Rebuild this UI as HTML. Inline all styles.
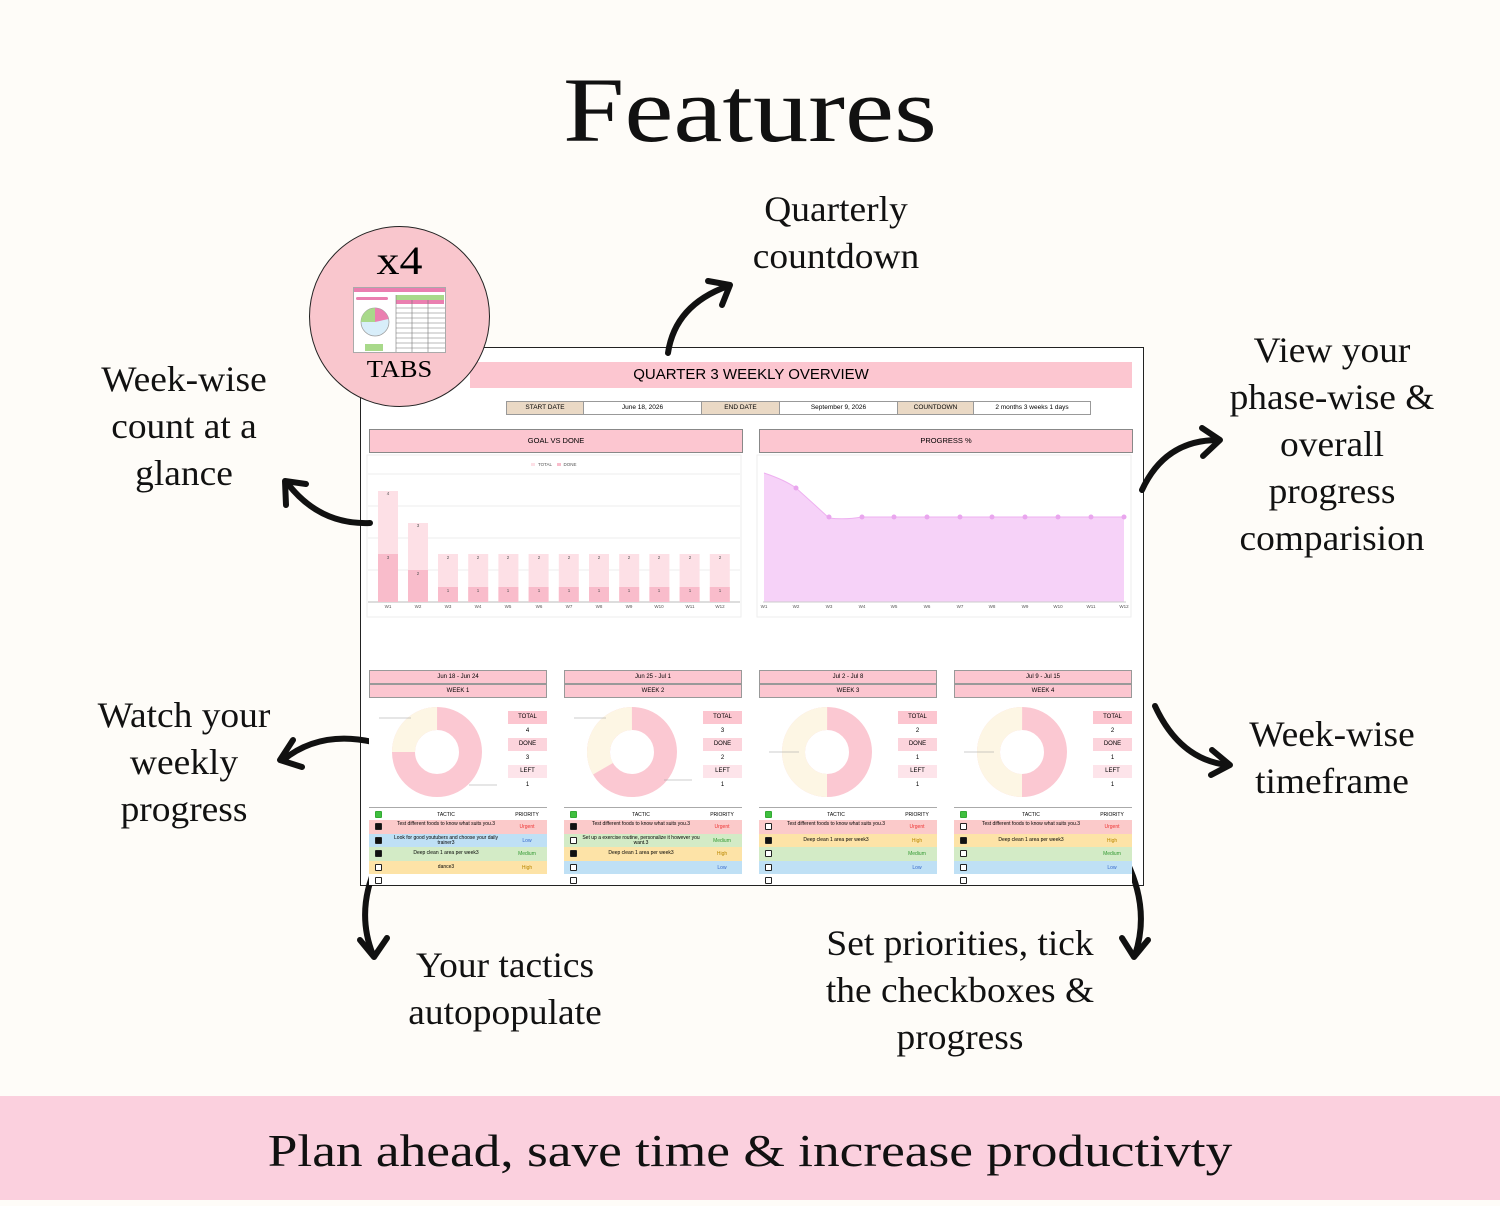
<!DOCTYPE html>
<html><head><meta charset="utf-8"><style>
*{margin:0;padding:0;box-sizing:border-box}
body{width:1500px;height:1200px;background:#fefcf8;position:relative;overflow:hidden;font-family:"Liberation Serif",serif}
.a{position:absolute}
.lbl{position:absolute;text-align:center;font-size:36px;line-height:47px;color:#111;transform:translateX(-50%) scaleX(1.04);white-space:nowrap}
.ss{font-family:"Liberation Sans",sans-serif}
.card{position:absolute;top:670px;width:178px;height:215px;background:#fff}
.card .r{position:absolute;left:0;width:178px;height:14px;background:#fcc6d0;border:1px solid #999;font:6px "Liberation Sans",sans-serif;text-align:center;line-height:12px}
.st{position:absolute;left:139px;width:39px;height:13px;font:6px "Liberation Sans",sans-serif;text-align:center;line-height:13px}
.tr{position:absolute;left:0;width:178px;height:13.5px;font:5px "Liberation Sans",sans-serif}
.tr .cb{position:absolute;left:6px;top:3px;width:7px;height:7px;border:1px solid #222;border-radius:1px;background:#fff}
.tr .cb.k{background:#111}
.tr .t{position:absolute;left:18px;width:118px;text-align:center;top:2px;line-height:5px}
.tr .p{position:absolute;left:140px;width:36px;text-align:center;top:4px}
</style></head><body>
<div class="a" style="left:0;top:60px;width:1500px;text-align:center;font-size:92px;line-height:100px;color:#111;transform:scaleX(1.2)">Features</div>

<div class="lbl" style="left:836px;top:186px">Quarterly<br>countdown</div>
<div class="lbl" style="left:184px;top:356px">Week-wise<br>count at a<br>glance</div>
<div class="lbl" style="left:1332px;top:327px">View your<br>phase-wise &amp;<br>overall<br>progress<br>comparision</div>
<div class="lbl" style="left:184px;top:692px">Watch your<br>weekly<br>progress</div>
<div class="lbl" style="left:1332px;top:711px">Week-wise<br>timeframe</div>
<div class="lbl" style="left:505px;top:942px">Your tactics<br>autopopulate</div>
<div class="lbl" style="left:960px;top:920px">Set priorities, tick<br>the checkboxes &amp;<br>progress</div>

<!-- screenshot frame -->
<div class="a" style="left:360px;top:347px;width:784px;height:539px;background:#fff;border:1.5px solid #222"></div>
<div class="a ss" style="left:470px;top:362px;width:662px;height:26px;background:#fcc6d0;text-align:center;font-size:15px;line-height:26px;padding-right:100px">QUARTER 3 WEEKLY OVERVIEW</div>
<div class="a ss" style="left:506px;top:401px;width:585px;height:14px;font-size:6.5px;line-height:12px;text-align:center;display:flex;border:1px solid #999">
<div style="width:76px;background:#ead9c5">START DATE</div><div style="width:118px;border-left:1px solid #999">June 18, 2026</div><div style="width:78px;background:#ead9c5;border-left:1px solid #999">END DATE</div><div style="width:118px;border-left:1px solid #999">September 9, 2026</div><div style="width:76px;background:#ead9c5;border-left:1px solid #999">COUNTDOWN</div><div style="flex:1;border-left:1px solid #999">2 months 3 weeks 1 days</div></div>
<div class="a ss" style="left:369px;top:429px;width:374px;height:24px;background:#fcc6d0;border:1px solid #888;text-align:center;font-size:7.5px;line-height:22px">GOAL VS DONE</div>
<div class="a ss" style="left:759px;top:429px;width:374px;height:24px;background:#fcc6d0;border:1px solid #888;text-align:center;font-size:7.5px;line-height:22px">PROGRESS %</div>

<svg class="a" style="left:0;top:0" width="1500" height="1200">
<g font-family="Liberation Sans,sans-serif" font-size="4.5" fill="#555" text-anchor="middle">
<rect x="367" y="455" width="374" height="162" fill="none" stroke="#eee"/>
<rect x="757" y="455" width="374" height="162" fill="none" stroke="#eee"/>
<rect x="531" y="463" width="4" height="3" fill="#fde0e6"/><text x="545" y="466">TOTAL</text>
<rect x="557" y="463" width="4" height="3" fill="#f9bccb"/><text x="570" y="466">DONE</text>
<line x1="368" y1="602" x2="740" y2="602" stroke="#bbb"/>
<line x1="368" y1="570" x2="740" y2="570" stroke="#eee"/><line x1="368" y1="538" x2="740" y2="538" stroke="#eee"/><line x1="368" y1="506" x2="740" y2="506" stroke="#eee"/><line x1="368" y1="474" x2="740" y2="474" stroke="#eee"/>
<rect x="378" y="491" width="20" height="111" fill="#fde0e6"/><rect x="378" y="554" width="20" height="48" fill="#f9bccb"/>
<rect x="408" y="523" width="20" height="79" fill="#fde0e6"/><rect x="408" y="570" width="20" height="32" fill="#f9bccb"/>
<g id="b"><rect x="438" y="554" width="20" height="48" fill="#fde0e6"/><rect x="438" y="587" width="20" height="15" fill="#f9bccb"/></g>
<use href="#b" x="30.2"/><use href="#b" x="60.4"/><use href="#b" x="90.6"/><use href="#b" x="120.8"/><use href="#b" x="151"/><use href="#b" x="181.2"/><use href="#b" x="211.4"/><use href="#b" x="241.6"/><use href="#b" x="271.8"/>
<text x="388" y="495">4</text><text x="388" y="559">3</text><text x="418" y="527">3</text><text x="418" y="575">2</text>
<text x="448" y="559">2</text><text x="478" y="559">2</text><text x="508" y="559">2</text><text x="539" y="559">2</text><text x="569" y="559">2</text><text x="599" y="559">2</text><text x="629" y="559">2</text><text x="659" y="559">2</text><text x="690" y="559">2</text><text x="720" y="559">2</text>
<text x="448" y="592">1</text><text x="478" y="592">1</text><text x="508" y="592">1</text><text x="539" y="592">1</text><text x="569" y="592">1</text><text x="599" y="592">1</text><text x="629" y="592">1</text><text x="659" y="592">1</text><text x="690" y="592">1</text><text x="720" y="592">1</text>
<text x="388" y="608">W1</text><text x="418" y="608">W2</text><text x="448" y="608">W3</text><text x="478" y="608">W4</text><text x="508" y="608">W5</text><text x="539" y="608">W6</text><text x="569" y="608">W7</text><text x="599" y="608">W8</text><text x="629" y="608">W9</text><text x="659" y="608">W10</text><text x="690" y="608">W11</text><text x="720" y="608">W12</text>
<path d="M764 473 Q785 480 796 488 Q815 505 829 518 Q845 520 862 517 L1124 517 L1124 602 L764 602 Z" fill="#f6d2f8"/>
<path d="M764 473 Q785 480 796 488 Q815 505 829 518 Q845 520 862 517 L1124 517" fill="none" stroke="#eeb0f0" stroke-width="1"/>
<g fill="#e9a6ee"><circle cx="796" cy="488" r="2.5"/><circle cx="829" cy="517" r="2.5"/><circle cx="862" cy="517" r="2.5"/><circle cx="894" cy="517" r="2.5"/><circle cx="927" cy="517" r="2.5"/><circle cx="960" cy="517" r="2.5"/><circle cx="992" cy="517" r="2.5"/><circle cx="1025" cy="517" r="2.5"/><circle cx="1058" cy="517" r="2.5"/><circle cx="1091" cy="517" r="2.5"/><circle cx="1124" cy="517" r="2.5"/></g>
<line x1="763" y1="602" x2="1126" y2="602" stroke="#ccc"/>
<text x="764" y="608">W1</text><text x="796" y="608">W2</text><text x="829" y="608">W3</text><text x="862" y="608">W4</text><text x="894" y="608">W5</text><text x="927" y="608">W6</text><text x="960" y="608">W7</text><text x="992" y="608">W8</text><text x="1025" y="608">W9</text><text x="1058" y="608">W10</text><text x="1091" y="608">W11</text><text x="1124" y="608">W12</text>
</g>
<g fill="none" stroke="#111" stroke-width="6" stroke-linecap="round" stroke-linejoin="round">
<path d="M668 353 Q675 305 728 286"/><path d="M708 281 L730 285 L722 305"/>
<path d="M370 523 Q320 525 288 484"/><path d="M286 505 L285 481 L306 484"/>
<path d="M1142 490 Q1165 440 1218 440"/><path d="M1202 428 L1220 440 L1203 456"/>
<path d="M373 742 Q320 730 283 760"/><path d="M293 740 L280 760 L302 767"/>
<path d="M1155 706 Q1180 760 1228 765"/><path d="M1212 750 L1230 765 L1211 775"/>
<path d="M378 862 Q355 910 373 955"/><path d="M360 940 L374 957 L387 938"/>
<path d="M1127 862 Q1150 910 1135 955"/><path d="M1122 938 L1134 957 L1148 940"/>
</g>
</svg>

<div class="a" style="left:309px;top:226px;width:181px;height:181px;border-radius:50%;background:#f9c6cd;border:1.5px solid #222"></div>
<div class="a" style="left:309px;top:238px;width:181px;text-align:center;font-size:40px;line-height:46px;transform:scaleX(1.15)">x4</div>
<div class="a" style="left:309px;top:355px;width:181px;text-align:center;font-size:24px;line-height:30px;transform:scaleX(1.1)">TABS</div>
<svg class="a" style="left:353px;top:287px" width="93" height="66">
<rect x="0.5" y="0.5" width="92" height="65" fill="#fff" stroke="#aaa"/>
<rect x="1" y="1" width="91" height="4" fill="#ea7fb0"/>
<rect x="3" y="10" width="32" height="3" rx="1.5" fill="#ea7fb0"/>
<circle cx="22" cy="35" r="14" fill="#d8eefa" stroke="#999" stroke-width=".7"/>
<path d="M22 35 L22 21 A14 14 0 0 1 35.5 32 Z" fill="#ea7fb0"/>
<path d="M22 35 L8 35 A14 14 0 0 1 22 21 Z" fill="#a8d98a"/>
<rect x="12" y="57" width="18" height="7" fill="#a8d98a"/>
<rect x="43" y="8" width="48" height="5" fill="#a8d98a"/>
<rect x="43" y="13" width="48" height="4" fill="#ea7fb0"/>
<g stroke="#777" stroke-width=".6"><line x1="43" y1="8" x2="43" y2="65"/><line x1="59" y1="13" x2="59" y2="65"/><line x1="75" y1="13" x2="75" y2="65"/>
<line x1="43" y1="21" x2="92" y2="21"/><line x1="43" y1="26" x2="92" y2="26"/><line x1="43" y1="31" x2="92" y2="31"/><line x1="43" y1="36" x2="92" y2="36"/><line x1="43" y1="41" x2="92" y2="41"/><line x1="43" y1="46" x2="92" y2="46"/><line x1="43" y1="51" x2="92" y2="51"/><line x1="43" y1="56" x2="92" y2="56"/><line x1="43" y1="61" x2="92" y2="61"/></g>
</svg>

<div class="card" style="left:369px">
<div class="r" style="top:0">Jun 18 - Jun 24</div><div class="r" style="top:14px">WEEK 1</div>
<svg class="a" style="left:0;top:28px" width="139" height="110"><circle cx="68" cy="54" r="33.5" fill="none" stroke="#fbc8d2" stroke-width="23"/><circle cx="68" cy="54" r="33.5" fill="none" stroke="#fdf6e4" stroke-width="23" stroke-dasharray="52.6 300" transform="rotate(180 68 54)"/><line x1="10" y1="20" x2="42" y2="20" stroke="#999" stroke-width=".6"/><line x1="100" y1="87" x2="128" y2="87" stroke="#999" stroke-width=".6"/></svg>
<div class="st" style="top:41px;background:#fcc6d0">TOTAL</div><div class="st" style="top:55px">4</div>
<div class="st" style="top:68px;background:#fcd4dc">DONE</div><div class="st" style="top:82px">3</div>
<div class="st" style="top:95px;background:#fde4ea">LEFT</div><div class="st" style="top:109px">1</div>
<div class="tr" style="top:137px;border-top:1px solid #aaa"><div class="cb" style="background:#3fbf3f;border-color:#3a3"></div><div class="t" style="top:5px">TACTIC</div><div class="p">PRIORITY</div></div>
<div class="tr" style="top:150px;background:#fbcaca"><div class="cb k"></div><div class="t">Test different foods to know what suits you.3</div><div class="p" style="color:#e33">Urgent</div></div>
<div class="tr" style="top:163.5px;background:#bfe0f5"><div class="cb k"></div><div class="t">Look for good youtubers and choose your daily trainer3</div><div class="p" style="color:#36c">Low</div></div>
<div class="tr" style="top:177px;background:#d3ebc6"><div class="cb k"></div><div class="t" style="top:4px">Deep clean 1 area per week3</div><div class="p" style="color:#393">Medium</div></div>
<div class="tr" style="top:190.5px;background:#fde3a7"><div class="cb"></div><div class="t" style="top:4px">dance3</div><div class="p" style="color:#b80">High</div></div>
<div class="tr" style="top:204px"><div class="cb"></div></div>
</div>

<div class="card" style="left:564px">
<div class="r" style="top:0">Jun 25 - Jul 1</div><div class="r" style="top:14px">WEEK 2</div>
<svg class="a" style="left:0;top:28px" width="139" height="110"><circle cx="68" cy="54" r="33.5" fill="none" stroke="#fbc8d2" stroke-width="23"/><circle cx="68" cy="54" r="33.5" fill="none" stroke="#fdf6e4" stroke-width="23" stroke-dasharray="70 300" transform="rotate(150 68 54)"/><line x1="10" y1="20" x2="42" y2="20" stroke="#999" stroke-width=".6"/><line x1="100" y1="82" x2="128" y2="82" stroke="#999" stroke-width=".6"/></svg>
<div class="st" style="top:41px;background:#fcc6d0">TOTAL</div><div class="st" style="top:55px">3</div>
<div class="st" style="top:68px;background:#fcd4dc">DONE</div><div class="st" style="top:82px">2</div>
<div class="st" style="top:95px;background:#fde4ea">LEFT</div><div class="st" style="top:109px">1</div>
<div class="tr" style="top:137px;border-top:1px solid #aaa"><div class="cb" style="background:#3fbf3f;border-color:#3a3"></div><div class="t" style="top:5px">TACTIC</div><div class="p">PRIORITY</div></div>
<div class="tr" style="top:150px;background:#fbcaca"><div class="cb k"></div><div class="t">Test different foods to know what suits you.3</div><div class="p" style="color:#e33">Urgent</div></div>
<div class="tr" style="top:163.5px;background:#d3ebc6"><div class="cb"></div><div class="t">Set up a exercise routine, personalize it however you want.3</div><div class="p" style="color:#393">Medium</div></div>
<div class="tr" style="top:177px;background:#fde3a7"><div class="cb k"></div><div class="t" style="top:4px">Deep clean 1 area per week3</div><div class="p" style="color:#b80">High</div></div>
<div class="tr" style="top:190.5px;background:#bfe0f5"><div class="cb"></div><div class="p" style="color:#36c">Low</div></div>
<div class="tr" style="top:204px"><div class="cb"></div></div>
</div>

<div class="card" style="left:759px">
<div class="r" style="top:0">Jul 2 - Jul 8</div><div class="r" style="top:14px">WEEK 3</div>
<svg class="a" style="left:0;top:28px" width="139" height="110"><circle cx="68" cy="54" r="33.5" fill="none" stroke="#fbc8d2" stroke-width="23"/><circle cx="68" cy="54" r="33.5" fill="none" stroke="#fdf6e4" stroke-width="23" stroke-dasharray="105.2 300" transform="rotate(90 68 54)"/><line x1="10" y1="54" x2="40" y2="54" stroke="#999" stroke-width=".6"/></svg>
<div class="st" style="top:41px;background:#fcc6d0">TOTAL</div><div class="st" style="top:55px">2</div>
<div class="st" style="top:68px;background:#fcd4dc">DONE</div><div class="st" style="top:82px">1</div>
<div class="st" style="top:95px;background:#fde4ea">LEFT</div><div class="st" style="top:109px">1</div>
<div class="tr" style="top:137px;border-top:1px solid #aaa"><div class="cb" style="background:#3fbf3f;border-color:#3a3"></div><div class="t" style="top:5px">TACTIC</div><div class="p">PRIORITY</div></div>
<div class="tr" style="top:150px;background:#fbcaca"><div class="cb"></div><div class="t">Test different foods to know what suits you.3</div><div class="p" style="color:#e33">Urgent</div></div>
<div class="tr" style="top:163.5px;background:#fde3a7"><div class="cb k"></div><div class="t" style="top:4px">Deep clean 1 area per week3</div><div class="p" style="color:#b80">High</div></div>
<div class="tr" style="top:177px;background:#d3ebc6"><div class="cb"></div><div class="p" style="color:#393">Medium</div></div>
<div class="tr" style="top:190.5px;background:#bfe0f5"><div class="cb"></div><div class="p" style="color:#36c">Low</div></div>
<div class="tr" style="top:204px"><div class="cb"></div></div>
</div>

<div class="card" style="left:954px">
<div class="r" style="top:0">Jul 9 - Jul 15</div><div class="r" style="top:14px">WEEK 4</div>
<svg class="a" style="left:0;top:28px" width="139" height="110"><circle cx="68" cy="54" r="33.5" fill="none" stroke="#fbc8d2" stroke-width="23"/><circle cx="68" cy="54" r="33.5" fill="none" stroke="#fdf6e4" stroke-width="23" stroke-dasharray="105.2 300" transform="rotate(90 68 54)"/><line x1="10" y1="54" x2="40" y2="54" stroke="#999" stroke-width=".6"/></svg>
<div class="st" style="top:41px;background:#fcc6d0">TOTAL</div><div class="st" style="top:55px">2</div>
<div class="st" style="top:68px;background:#fcd4dc">DONE</div><div class="st" style="top:82px">1</div>
<div class="st" style="top:95px;background:#fde4ea">LEFT</div><div class="st" style="top:109px">1</div>
<div class="tr" style="top:137px;border-top:1px solid #aaa"><div class="cb" style="background:#3fbf3f;border-color:#3a3"></div><div class="t" style="top:5px">TACTIC</div><div class="p">PRIORITY</div></div>
<div class="tr" style="top:150px;background:#fbcaca"><div class="cb"></div><div class="t">Test different foods to know what suits you.3</div><div class="p" style="color:#e33">Urgent</div></div>
<div class="tr" style="top:163.5px;background:#fde3a7"><div class="cb k"></div><div class="t" style="top:4px">Deep clean 1 area per week3</div><div class="p" style="color:#b80">High</div></div>
<div class="tr" style="top:177px;background:#d3ebc6"><div class="cb"></div><div class="p" style="color:#393">Medium</div></div>
<div class="tr" style="top:190.5px;background:#bfe0f5"><div class="cb"></div><div class="p" style="color:#36c">Low</div></div>
<div class="tr" style="top:204px"><div class="cb"></div></div>
</div>

<div class="a" style="left:0;top:1096px;width:1500px;height:104px;background:#fbd0de"></div>
<div class="a" style="left:0;top:1096px;width:1500px;height:104px;text-align:center;font-size:46px;line-height:110px;color:#111;transform:scaleX(1.16)">Plan ahead, save time &amp; increase productivty</div>
</body></html>
